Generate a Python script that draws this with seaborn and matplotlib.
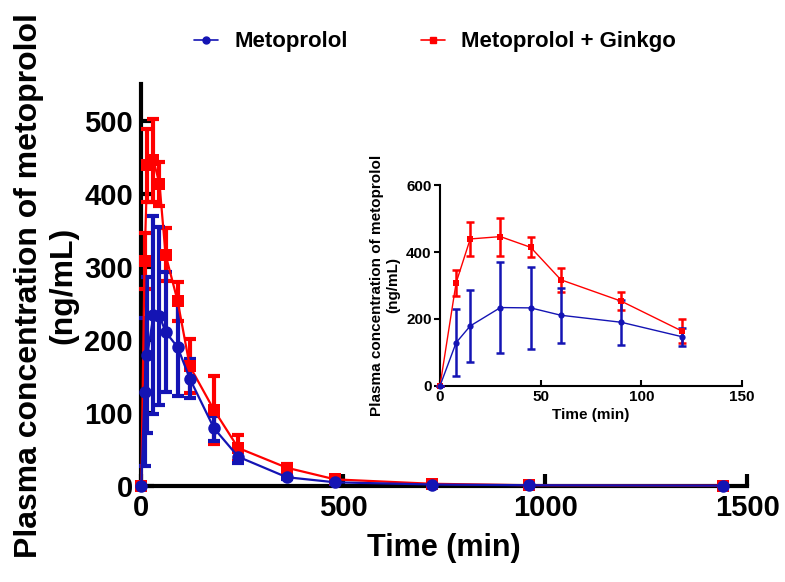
import numpy as np
import pandas as pd
import seaborn as sns
from matplotlib import pyplot as plt
from matplotlib.lines import Line2D

# Time points (min)
time = [0, 8, 15, 30, 45, 60, 90, 120, 180, 240, 360, 480, 720, 960, 1440]

# Metoprolol alone: mean and SD (ng/mL)
meto_mean = [0, 129, 179, 234, 233, 211, 190, 147, 79, 40, 12, 5, 2, 1, 0.5]
meto_sd = [0, 101, 107, 136, 122, 82, 67, 27, 17, 9, 3, 2, 1, 0.5, 0.3]

# Metoprolol + Ginkgo: mean and SD (ng/mL)
ginkgo_mean = [0, 308, 439, 446, 414, 317, 253, 164, 104, 52, 25, 9, 3, 1, 0.5]
ginkgo_sd = [0, 38, 50, 57, 30, 36, 27, 37, 47, 18, 5, 3, 1, 0.5, 0.3]

inset_max_time = 120

BLUE = '#1414b4'
RED = '#ff0000'

df = pd.concat([
    pd.DataFrame({'time': time, 'conc': meto_mean, 'sd': meto_sd, 'group': 'Metoprolol'}),
    pd.DataFrame({'time': time, 'conc': ginkgo_mean, 'sd': ginkgo_sd, 'group': 'Metoprolol + Ginkgo'}),
])

sns.set_style('ticks')
plt.rcParams['font.family'] = ['Liberation Sans', 'DejaVu Sans']
plt.rcParams['font.weight'] = 'bold'
for key in ['text.color', 'axes.labelcolor', 'xtick.color', 'ytick.color', 'axes.edgecolor']:
    plt.rcParams[key] = 'black'

fig = plt.figure(figsize=(7.85, 5.82), dpi=100)
ax = fig.add_axes([0.18, 0.165, 0.772, 0.69])

palette = {'Metoprolol': BLUE, 'Metoprolol + Ginkgo': RED}
markers = {'Metoprolol': 'o', 'Metoprolol + Ginkgo': 's'}


def draw(ax, data, lw, ms, elw, cap):
    # red first, blue on top
    for group in ['Metoprolol + Ginkgo', 'Metoprolol']:
        sub = data[data['group'] == group]
        eb = ax.errorbar(sub['time'], sub['conc'], yerr=sub['sd'], fmt='none',
                         ecolor=palette[group], elinewidth=elw, capsize=cap, capthick=elw, zorder=3)
        for art in eb.lines[1] + eb.lines[2]:
            art.set_clip_on(False)
        sns.lineplot(data=sub, x='time', y='conc', color=palette[group], marker=markers[group],
                     markersize=ms, markeredgewidth=0, linewidth=lw, ax=ax, zorder=4,
                     legend=False, errorbar=None, clip_on=False)


draw(ax, df, lw=1.6, ms=9, elw=3, cap=4.5)

ax.set_xlim(0, 1500)
ax.set_ylim(0, 550)
ax.set_xticks([0, 500, 1000, 1500])
ax.set_yticks([0, 100, 200, 300, 400, 500])
ax.set_xlabel('Time (min)', fontsize=22, fontweight='bold', labelpad=8)
ax.set_ylabel('Plasma concentration of metoprolol\n(ng/mL)', fontsize=23, fontweight='bold', labelpad=4)
ax.tick_params(axis='both', direction='in', length=9, width=3, labelsize=21, pad=6)
for lab in ax.get_xticklabels() + ax.get_yticklabels():
    lab.set_fontweight('bold')
sns.despine(ax=ax)
for s in ['left', 'bottom']:
    ax.spines[s].set_linewidth(3)
ax.spines['left'].set_zorder(2)

# Inset
axin = fig.add_axes([0.5605, 0.337, 0.385, 0.345])
draw(axin, df[df['time'] <= inset_max_time], lw=1.0, ms=4.5, elw=1.8, cap=3)
axin.set_xlim(0, 150)
axin.set_ylim(0, 600)
axin.set_xticks([0, 50, 100, 150])
axin.set_yticks([0, 200, 400, 600])
axin.set_xlabel('Time (min)', fontsize=11, fontweight='bold', labelpad=3)
axin.set_ylabel('Plasma concentration of metoprolol\n(ng/mL)', fontsize=11, fontweight='bold', labelpad=4)
axin.tick_params(axis='y', direction='out', length=4, width=1.5, labelsize=11, pad=2)
axin.tick_params(axis='x', direction='in', length=4, width=1.5, labelsize=11, pad=3)
for lab in axin.get_xticklabels() + axin.get_yticklabels():
    lab.set_fontweight('bold')
sns.despine(ax=axin)
for s in ['left', 'bottom']:
    axin.spines[s].set_linewidth(1.5)
axin.patch.set_alpha(0)

# Legend
handles = [Line2D([], [], color=BLUE, marker='o', markersize=5, linewidth=1.2),
           Line2D([], [], color=RED, marker='s', markersize=5, linewidth=1.2)]
fig.legend(handles, ['Metoprolol', 'Metoprolol + Ginkgo'], loc='center', bbox_to_anchor=(0.554, 0.928),
           ncol=2, frameon=False, prop={'size': 16, 'weight': 'bold'}, handlelength=1.1,
           columnspacing=3.3, handletextpad=0.7)

fig.savefig('out.png', dpi=100)
